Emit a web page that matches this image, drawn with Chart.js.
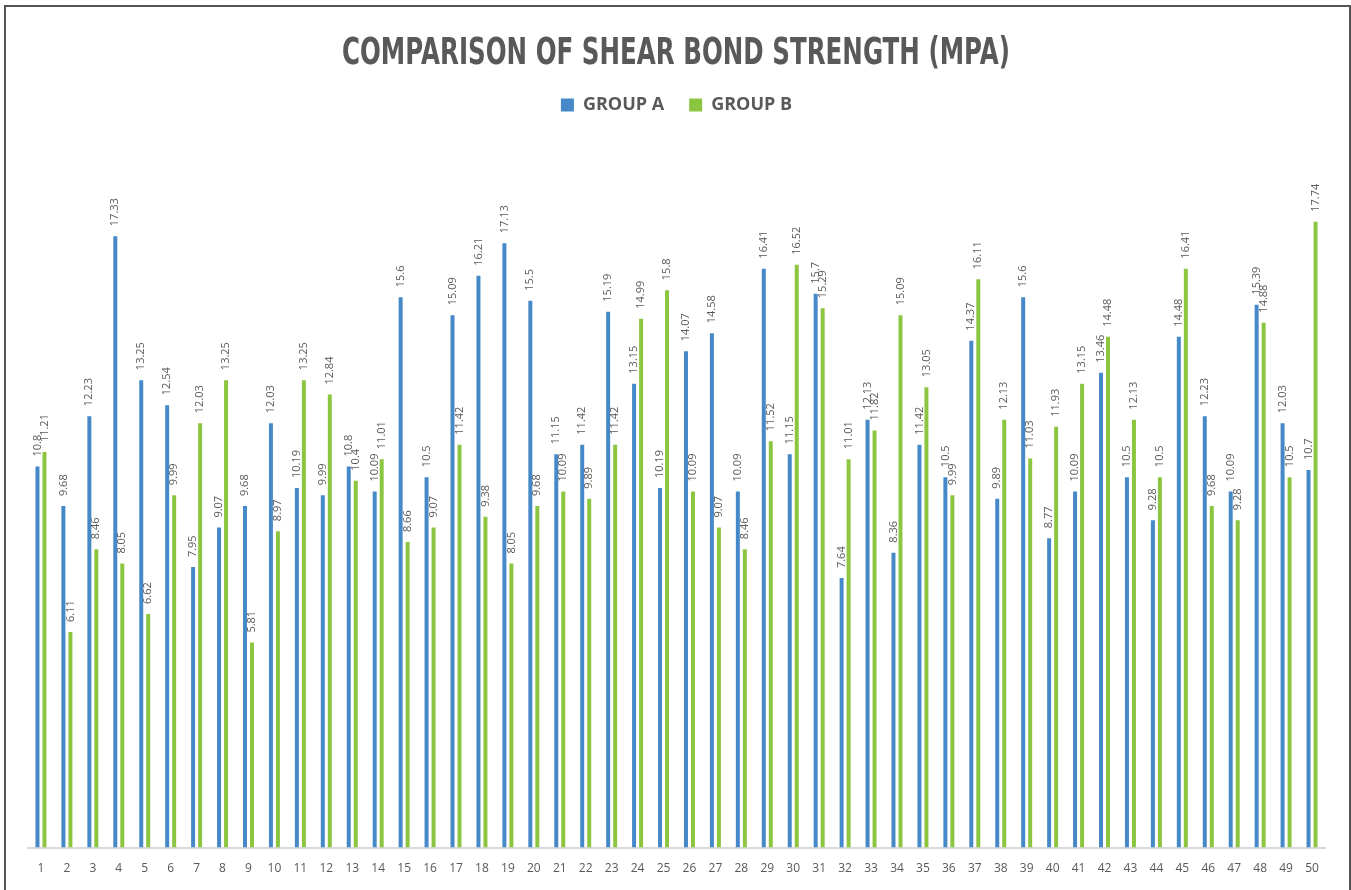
<!DOCTYPE html>
<html>
<head>
<meta charset="utf-8">
<title>Comparison of Shear Bond Strength (MPA)</title>
<script src="https://cdn.jsdelivr.net/npm/chart.js@4.4.1/dist/chart.umd.min.js"></script>
<style>
  html, body { margin: 0; padding: 0; background: #fff; }
  #wrap { position: relative; width: 1351px; height: 890px; overflow: hidden; }
  #frame { position: absolute; left: 4px; top: 5px; width: 1343px; height: 900px; border: 2px solid #555; pointer-events: none; }
</style>
</head>
<body>
<div id="wrap">
  <canvas id="shearChart" width="1351" height="890"></canvas>
  <div id="frame"></div>
</div>
<script>
// Chart data
var chartTitle = "COMPARISON OF SHEAR BOND STRENGTH (MPA)";

var samples = ["1", "2", "3", "4", "5", "6", "7", "8", "9", "10",
  "11", "12", "13", "14", "15", "16", "17", "18", "19", "20",
  "21", "22", "23", "24", "25", "26", "27", "28", "29", "30",
  "31", "32", "33", "34", "35", "36", "37", "38", "39", "40",
  "41", "42", "43", "44", "45", "46", "47", "48", "49", "50"];

var groupA = [10.8, 9.68, 12.23, 17.33, 13.25, 12.54, 7.95, 9.07, 9.68, 12.03,
  10.19, 9.99, 10.8, 10.09, 15.6, 10.5, 15.09, 16.21, 17.13, 15.5,
  11.15, 11.42, 15.19, 13.15, 10.19, 14.07, 14.58, 10.09, 16.41, 11.15,
  15.7, 7.64, 12.13, 8.36, 11.42, 10.5, 14.37, 9.89, 15.6, 8.77,
  10.09, 13.46, 10.5, 9.28, 14.48, 12.23, 10.09, 15.39, 12.03, 10.7];

var groupB = [11.21, 6.11, 8.46, 8.05, 6.62, 9.99, 12.03, 13.25, 5.81, 8.97,
  13.25, 12.84, 10.4, 11.01, 8.66, 9.07, 11.42, 9.38, 8.05, 9.68,
  10.09, 9.89, 11.42, 14.99, 15.8, 10.09, 9.07, 8.46, 11.52, 16.52,
  15.29, 11.01, 11.82, 15.09, 13.05, 9.99, 16.11, 12.13, 11.03, 11.93,
  13.15, 14.48, 12.13, 10.5, 16.41, 9.68, 9.28, 14.88, 10.5, 17.74];

var textGray = "#595959";

// Draw the title narrow and tall, like the condensed font of the original
var squeezedTitle = {
  id: "squeezedTitle",
  afterDraw: function (chart) {
    var ctx = chart.ctx;
    ctx.save();
    ctx.font = 'bold 37px "DejaVu Sans"';
    ctx.fillStyle = textGray;
    ctx.textAlign = "center";
    ctx.textBaseline = "alphabetic";
    var w = ctx.measureText(chartTitle).width;
    ctx.translate(676, 64);
    ctx.scale(668 / w, 1);
    ctx.fillText(chartTitle, 0, 0);
    ctx.restore();
  }
};

// Extra room under the legend
var legendGap = {
  id: "legendGap",
  beforeInit: function (chart) {
    var fit = chart.legend.fit;
    chart.legend.fit = function () {
      fit.bind(chart.legend)();
      this.height += 18;
    };
  }
};

// Value labels, rotated, above every bar
var barLabels = {
  id: "barLabels",
  afterDatasetsDraw: function (chart) {
    var ctx = chart.ctx;
    ctx.save();
    ctx.font = '11px "Open Sans"';
    ctx.fillStyle = textGray;
    ctx.textAlign = "left";
    ctx.textBaseline = "middle";
    chart.data.datasets.forEach(function (dataset, i) {
      var meta = chart.getDatasetMeta(i);
      meta.data.forEach(function (bar, j) {
        ctx.save();
        ctx.translate(bar.x, bar.y - 10);
        ctx.rotate(-Math.PI / 2);
        ctx.fillText(String(dataset.data[j]), 0, 0);
        ctx.restore();
      });
    });
    ctx.restore();
  }
};

var ctx = document.getElementById("shearChart").getContext("2d");
var shearChart = new Chart(ctx, {
  type: "bar",
  data: {
    labels: samples,
    datasets: [
      { label: "GROUP A", data: groupA, backgroundColor: "#4589C8" },
      { label: "GROUP B", data: groupB, backgroundColor: "#8CC641" }
    ]
  },
  options: {
    responsive: false,
    animation: false,
    categoryPercentage: 0.54,
    barPercentage: 0.57,
    layout: {
      padding: { top: 71, left: 28, right: 26, bottom: 8 }
    },
    plugins: {
      title: { display: false },
      tooltip: { enabled: false },
      legend: {
        display: true,
        position: "top",
        labels: {
          boxWidth: 13,
          boxHeight: 13,
          padding: 25,
          color: textGray,
          font: { family: "Open Sans", size: 18, weight: "bold" }
        }
      }
    },
    scales: {
      x: {
        grid: { display: false },
        border: { display: true, color: "#d9d9d9", width: 2 },
        ticks: {
          color: textGray,
          padding: 6,
          maxRotation: 0,
          autoSkip: false,
          font: { family: "Open Sans", size: 12 }
        }
      },
      y: {
        display: false,
        min: 0,
        max: 20
      }
    }
  },
  plugins: [squeezedTitle, legendGap, barLabels]
});
</script>
</body>
</html>
